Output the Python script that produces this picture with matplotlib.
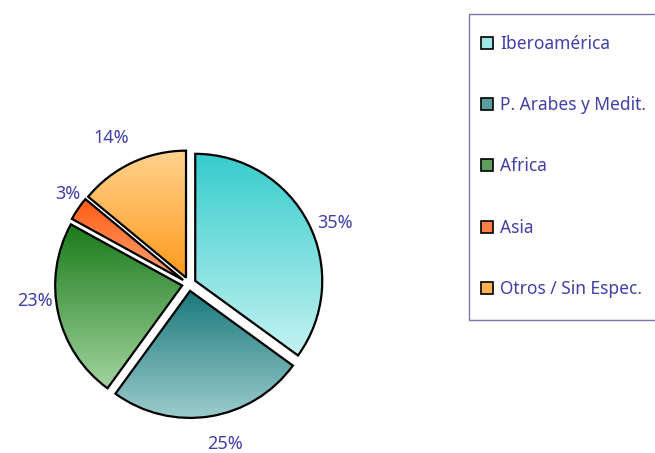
import numpy as np
import matplotlib.pyplot as plt
from matplotlib.colors import LinearSegmentedColormap
from matplotlib.patches import Patch, Rectangle

# ---- Data ------------------------------------------------
regions = ['Iberoamérica', 'P. Arabes y Medit.', 'Africa', 'Asia', 'Otros / Sin Espec.']
shares = [35, 25, 23, 3, 14]

# gradient colours, top -> bottom of each slice
top_colors = ['#36cccc', '#1a787c', '#1a7a1a', '#ff5c14', '#ffd28e']
bottom_colors = ['#c4f2f2', '#9ccccc', '#a2d49e', '#ffa474', '#ff9a1c']
legend_colors = ['#9fe6e6', '#5a9e9e', '#5e9e5a', '#ff7f45', '#ffb250']
text_color = '#4040a8'

# small pixel nudges for the percent labels (Excel places them unevenly)
label_nudge = [(6, -10), (11, -5), (-1, 17), (9, 2), (-11, 4)]

# ---- Figure ----------------------------------------------
fig = plt.figure(figsize=(6.55, 4.53), dpi=100)
ax = fig.add_axes([0, 0, 1, 1])

center = (189, 169)
radius = 127
# explode is in data units here (axes are in pixels)
wedges, _, pct_texts = ax.pie(shares, startangle=90, counterclock=False,
                              explode=[7] * len(shares), center=center, radius=radius,
                              autopct='%.0f%%', pctdistance=1.18,
                              wedgeprops=dict(facecolor='none', edgecolor='black', linewidth=1.6),
                              textprops=dict(color=text_color, fontsize=13, family='Noto Sans'))

for t, (dx, dy) in zip(pct_texts, label_nudge):
    x, y = t.get_position()
    t.set_position((x + dx, y + dy))

# vertical gradient clipped by each wedge
grad = np.linspace(0, 1, 256).reshape(-1, 1)
for w, c0, c1 in zip(wedges, top_colors, bottom_colors):
    w.set_zorder(3)
    bb = w.get_path().get_extents(w.get_patch_transform())
    cmap = LinearSegmentedColormap.from_list('g', [c0, c1])
    im = ax.imshow(grad, cmap=cmap, aspect='auto', origin='upper',
                   extent=[bb.x0, bb.x1, bb.y0, bb.y1], zorder=2)
    im.set_clip_path(w)

ax.set_xlim(0, 655)
ax.set_ylim(0, 453)
ax.set_aspect('auto')
ax.axis('off')

# ---- Legend ----------------------------------------------
# frame drawn by hand, legend itself frameless
ax.add_patch(Rectangle((469, 453 - 320), 200, 306, facecolor='white',
                       edgecolor='#7a7aaa', linewidth=1.0, zorder=1, clip_on=False))
handles = [Patch(facecolor=c, edgecolor='black', linewidth=1.2) for c in legend_colors]
leg = fig.legend(handles, regions, loc='upper left', bbox_to_anchor=(481 / 655, 1 - 35 / 453),
                 frameon=False, labelcolor=text_color,
                 handlelength=0.7, handleheight=0.7, handletextpad=0.4,
                 labelspacing=2.49, borderpad=0.0, borderaxespad=0,
                 prop=dict(family='Noto Sans', size=12.5))

fig.savefig('out.png', dpi=100)
